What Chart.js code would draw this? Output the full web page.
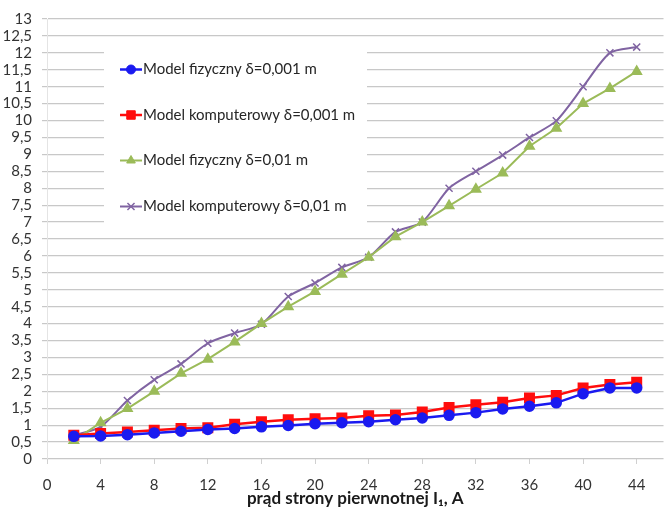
<!DOCTYPE html>
<html>
<head>
<meta charset="utf-8">
<style>
  html, body { margin: 0; padding: 0; background: #fff; overflow: hidden; }
  #wrap { position: absolute; left: -4px; top: 0; width: 676px; height: 509px; }
</style>
</head>
<body>
<div id="wrap"><canvas id="chart"></canvas></div>
<script src="https://cdn.jsdelivr.net/npm/chart.js@4.4.1/dist/chart.umd.min.js"></script>
<script>
// prąd strony pierwnotnej I1 [A]
const currents = [2, 4, 6, 8, 10, 12, 14, 16, 18, 20, 22, 24, 26, 28, 30, 32, 34, 36, 38, 40, 42, 44];

const fizyczny001 = [0.67, 0.68, 0.72, 0.77, 0.82, 0.87, 0.9, 0.95, 0.99, 1.04, 1.07, 1.1, 1.16, 1.21, 1.29, 1.37, 1.48, 1.56, 1.66, 1.93, 2.1, 2.1];
const komputerowy001 = [0.7, 0.75, 0.8, 0.85, 0.9, 0.92, 1.03, 1.1, 1.16, 1.19, 1.21, 1.28, 1.3, 1.39, 1.52, 1.6, 1.68, 1.8, 1.88, 2.1, 2.2, 2.27];
const fizyczny01 = [0.55, 1.07, 1.49, 2.0, 2.53, 2.95, 3.46, 4.0, 4.5, 4.95, 5.46, 5.96, 6.57, 7.0, 7.48, 7.97, 8.45, 9.24, 9.77, 10.5, 10.95, 11.45];
const komputerowy01 = [0.7, 0.95, 1.73, 2.34, 2.81, 3.42, 3.72, 3.98, 4.8, 5.2, 5.66, 5.96, 6.71, 7.0, 8.0, 8.5, 8.98, 9.5, 9.99, 11.0, 12.0, 12.17];

const xTickValues = [0, 4, 8, 12, 16, 20, 24, 28, 32, 36, 40, 44];
const seriesLabels = [
  "Model fizyczny δ=0,001 m",
  "Model komputerowy δ=0,001 m",
  "Model fizyczny δ=0,01 m",
  "Model komputerowy δ=0,01 m",
];
const xTitle = "prąd strony pierwnotnej I₁, A";

const FONT = "Lato, 'Liberation Sans', sans-serif";

function toPoints(values) {
  return values.map((v, i) => ({ x: currents[i], y: v }));
}

const datasets = [
  {
    label: seriesLabels[0],
    data: toPoints(fizyczny001),
    borderColor: "#1a1af0",
    backgroundColor: "#1a1af0",
    borderWidth: 2.5,
    pointStyle: "circle",
    pointRadius: 4.5,
    tension: 0,
  },
  {
    label: seriesLabels[1],
    data: toPoints(komputerowy001),
    borderColor: "#ff0d0d",
    backgroundColor: "#ff0d0d",
    borderWidth: 2.5,
    pointStyle: "rect",
    pointRadius: 6,
    tension: 0,
  },
  {
    label: seriesLabels[2],
    data: toPoints(fizyczny01),
    borderColor: "#9bbb59",
    backgroundColor: "#9bbb59",
    borderWidth: 2,
    pointStyle: "triangle",
    pointRadius: 5,
    tension: 0,
  },
  {
    label: seriesLabels[3],
    data: toPoints(komputerowy01),
    borderColor: "#8064a2",
    backgroundColor: "#8064a2",
    borderWidth: 2,
    pointStyle: "crossRot",
    pointRadius: 5,
    pointBorderWidth: 1.5,
    tension: 0.25,
  },
];

// legend drawn inside the plot, on a white box like the original
const innerLegend = {
  id: "innerLegend",
  beforeDatasetsDraw(chart) {
    const ctx = chart.ctx;
    ctx.save();
    ctx.fillStyle = "#fff";
    ctx.fillRect(108, 43, 263, 186);
    ctx.restore();
  },
  afterDatasetsDraw(chart) {
    const ctx = chart.ctx;
    const rows = [69.5, 115, 160.5, 206.5];
    ctx.save();
    chart.data.datasets.forEach((ds, i) => {
      const y = rows[i];
      ctx.strokeStyle = ds.borderColor;
      ctx.fillStyle = ds.backgroundColor;
      ctx.lineWidth = ds.borderWidth;
      ctx.beginPath();
      ctx.moveTo(124, y);
      ctx.lineTo(146, y);
      ctx.stroke();
      ctx.lineWidth = ds.pointBorderWidth || 1;
      Chart.helpers.drawPoint(ctx, {
        pointStyle: ds.pointStyle,
        radius: ds.pointRadius,
        rotation: 0,
        borderWidth: ds.pointBorderWidth || 1,
      }, 135, y);
      ctx.fillStyle = "#262626";
      ctx.font = "15px " + FONT;
      ctx.textBaseline = "middle";
      ctx.textAlign = "left";
      ctx.fillText(ds.label, 147, y);
    });
    ctx.restore();
  },
};

const chart = new Chart(document.getElementById("chart"), {
  type: "line",
  data: { datasets: datasets },
  options: {
    responsive: true,
    maintainAspectRatio: false,
    animation: false,
    layout: { padding: { top: 16, right: 0, bottom: 0, left: 0 } },
    plugins: {
      legend: { display: false },
      tooltip: { enabled: false },
    },
    scales: {
      x: {
        type: "linear",
        min: 0,
        max: 46,
        afterBuildTicks: (scale) => {
          scale.ticks = xTickValues.map((v) => ({ value: v }));
        },
        afterFit: (scale) => {
          scale.height = 50;
        },
        grid: {
          drawOnChartArea: false,
          tickLength: 5,
          color: "#d0d0d0",
        },
        border: { display: false },
        ticks: {
          color: "#333",
          padding: 12,
          maxRotation: 0,
          autoSkip: false,
          font: { family: FONT, size: 15 },
        },
        title: {
          display: true,
          text: xTitle,
          color: "#1a1a1a",
          padding: { top: 0, bottom: 0 },
          font: { family: FONT, size: 17, weight: "bold" },
        },
      },
      y: {
        min: 0,
        max: 13,
        afterFit: (scale) => {
          scale.width = 51;
        },
        grid: {
          color: "#c8c8c8",
          lineWidth: 1.2,
          tickLength: 5,
        },
        border: { color: "#e4e4e4" },
        ticks: {
          stepSize: 0.5,
          autoSkip: false,
          color: "#333",
          padding: 10,
          font: { family: FONT, size: 15 },
          callback: function (value) {
            return String(value).replace(".", ",");
          },
        },
      },
    },
  },
  plugins: [innerLegend],
});
</script>
</body>
</html>
